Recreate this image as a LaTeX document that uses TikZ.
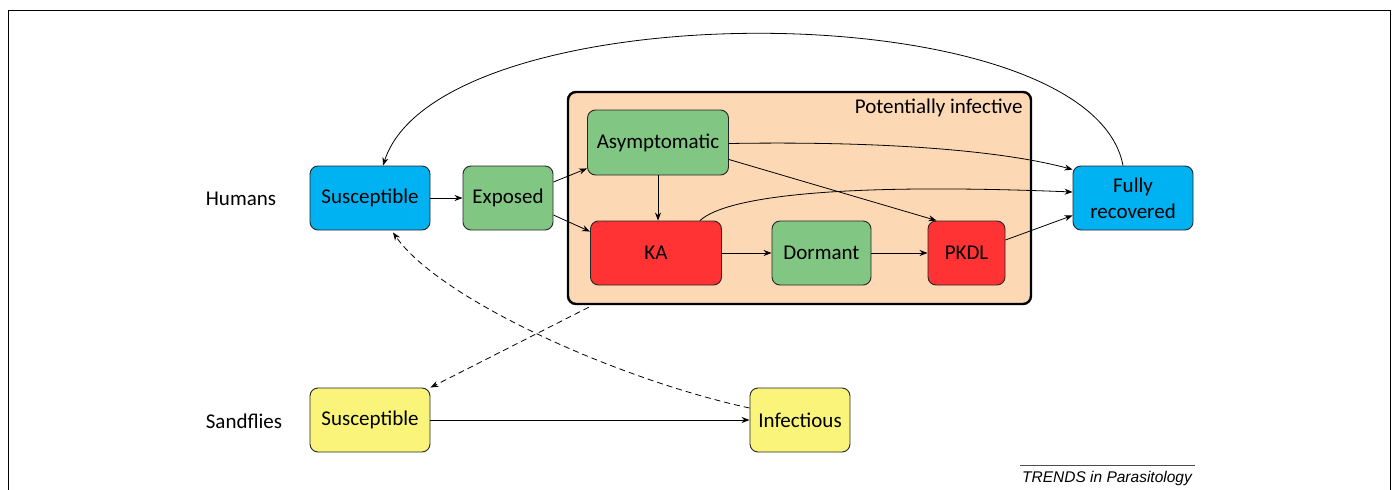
\documentclass[tikz,border=0pt]{standalone}
\usepackage{fontspec}
\setmainfont{Carlito}
\newfontfamily\trendsfont{Liberation Sans}
\usetikzlibrary{arrows.meta,calc}
\definecolor{cblue}{HTML}{00B2F2}
\definecolor{cgreen}{HTML}{82C683}
\definecolor{cred}{HTML}{FF3334}
\definecolor{cyellow}{HTML}{FAF57A}
\definecolor{cpeach}{HTML}{FDD8B4}
\begin{document}
\begin{tikzpicture}[x=1pt,y=-1pt,
  state/.style={draw=black!85,line width=0.9pt,rounded corners=8pt,minimum height=64pt,inner sep=2pt,align=center,font=\fontsize{21}{26}\selectfont},
  lbl/.style={font=\fontsize{21}{26}\selectfont},
  arr/.style={-{Stealth[length=8pt,width=6pt]},line width=0.8pt},
  darr/.style={arr,dash pattern=on 6pt off 4pt}]
\useasboundingbox (0,0) rectangle (1393,490);
\draw[line width=0.9pt] (8,492) -- (8,10) -- (1390,10) -- (1390,492);
% potentially infective box
\node[draw=black,line width=2.4pt,fill=cpeach,rounded corners=8pt,minimum width=463pt,minimum height=212pt] (PI) at (799.5,198) {};
\node[lbl,anchor=east] (PIl) at (1026,108) {Potentially infective};
% labels
\node[lbl] (hum) at (241,199) {Humans};
\node[lbl] (sand) at (244,421) {Sandflies};
% human states
\node[state,fill=cblue,minimum width=120pt] (hS) at (370,198) {Susceptible};
\node[state,fill=cgreen,minimum width=90pt] (E) at (508,198) {Exposed};
\node[state,fill=cgreen,minimum width=141pt,minimum height=65pt] (As) at (658,142.5) {Asymptomatic};
\node[state,fill=cred,minimum width=131pt] (KA) at (656,253) {KA};
\node[state,fill=cgreen,minimum width=99pt] (D) at (821.5,253) {Dormant};
\node[state,fill=cred,minimum width=77pt] (P) at (966.5,253) {PKDL};
\node[state,fill=cblue,minimum width=120pt] (FR) at (1133,198) {Fully\\recovered};
% sandfly states
\node[state,fill=cyellow,minimum width=120pt] (sS) at (370,420) {Susceptible};
\node[state,fill=cyellow,minimum width=100pt] (I) at (800,420) {Infectious};
% connectors
\draw[arr] (hS.east) -- (E.west);
\draw[arr] ($(E.east)+(0,-16)$) -- ($(As.south west)+(0,-7)$);
\draw[arr] ($(E.east)+(0,17)$) -- ($(KA.north west)+(0,11)$);
\draw[arr] (As.south) -- (As.south |- KA.north);
\draw[arr] (KA.east) -- (D.west);
\draw[arr] (D.east) -- (P.west);
\draw[arr] ($(As.east)+(0,1)$) .. controls (880,141) and (1000,150) .. ($(FR.north west)+(0,4)$);
\draw[arr] ($(As.east)+(0,17)$) -- ($(P.north west)+(9,0)$);
\draw[arr] ($(KA.north east)+(-22,0)$) .. controls (728,195) and (850,183) .. ($(FR.west)+(0,-6)$);
\draw[arr] ($(P.east)+(0,-13)$) -- ($(FR.south west)+(0,-15)$);
\draw[arr] ($(FR.north)+(-10,0)$) .. controls (1090,-10) and (440,-10) .. ($(hS.north)+(13,0)$);
\draw[arr] (sS.east) -- (I.west);
\draw[darr] ($(PI.south west)+(22,2)$) -- (sS.north east);
\draw[darr] ($(I.west)+(0,-12)$) .. controls (620,380) and (440,300) .. ($(hS.south)+(23,2)$);
% credit
\draw[line width=0.6pt,black!70] (1020,465) -- (1195,465);
\node[font=\trendsfont\itshape\fontsize{15.5}{18}\selectfont,anchor=base] (cred) at (1107,482) {TRENDS in Parasitology};
\end{tikzpicture}
\end{document}
